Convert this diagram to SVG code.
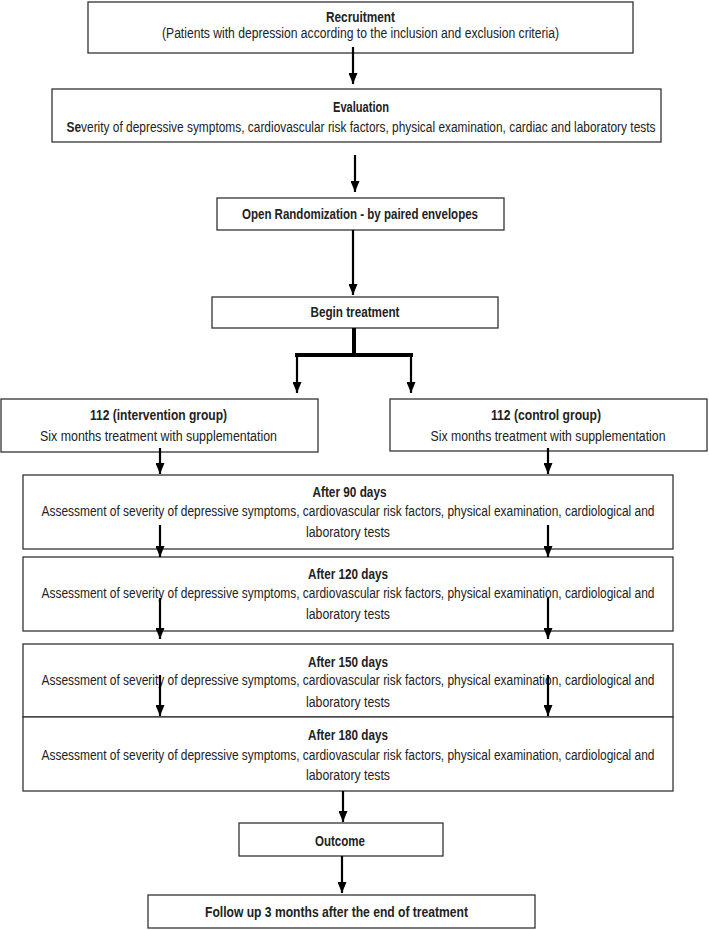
<svg xmlns="http://www.w3.org/2000/svg" width="709" height="930" viewBox="0 0 709 930">
<style>
.box{fill:#fff;stroke:#333;stroke-width:1.3}
.t{font-family:"Liberation Sans",Arial,sans-serif;font-size:14px;fill:#222;text-anchor:middle}
.b{font-weight:bold}
.c{stroke:#000;stroke-width:2.2;fill:none}
.k{stroke:#000;stroke-width:4;fill:none}
</style>
<defs>
<marker id="a" markerUnits="userSpaceOnUse" markerWidth="11" markerHeight="9" refX="11" refY="4.5" orient="auto" viewBox="0 0 11 9">
<path d="M0,0 L11,4.5 L0,9 Z" fill="#000"/>
</marker>
</defs>
<rect width="709" height="930" fill="#fff"/>

<g id="recruitment">
<rect class="box" x="88" y="2" width="545" height="51"/>
<text class="t b" x="360.5" y="22" textLength="69" lengthAdjust="spacingAndGlyphs">Recruitment</text>
<text class="t" x="360.5" y="38" textLength="397" lengthAdjust="spacingAndGlyphs">(Patients with depression according to the inclusion and exclusion criteria)</text>
</g>

<g id="evaluation">
<rect class="box" x="52" y="89" width="609" height="53"/>
<text class="t b" x="361" y="112" textLength="56" lengthAdjust="spacingAndGlyphs">Evaluation</text>
<text class="t" x="361" y="132" textLength="589" lengthAdjust="spacingAndGlyphs"><tspan class="b">Se</tspan>verity of depressive symptoms, cardiovascular risk factors, physical examination, cardiac and laboratory tests</text>
</g>

<g id="randomization">
<rect class="box" x="217" y="198" width="287" height="32"/>
<text class="t b" x="360" y="219" textLength="236" lengthAdjust="spacingAndGlyphs">Open Randomization - by paired envelopes</text>
</g>

<g id="begin">
<rect class="box" x="212" y="297" width="286" height="31"/>
<text class="t b" x="355" y="317" textLength="89" lengthAdjust="spacingAndGlyphs">Begin treatment</text>
</g>

<g id="intervention">
<rect class="box" x="1" y="399" width="317" height="53"/>
<text class="t b" x="158.5" y="419.5" textLength="137" lengthAdjust="spacingAndGlyphs">112 (intervention group)</text>
<text class="t" x="158.5" y="440.5" textLength="237" lengthAdjust="spacingAndGlyphs">Six months treatment with supplementation</text>
</g>

<g id="control">
<rect class="box" x="390" y="399" width="317" height="52"/>
<text class="t b" x="546" y="419.5" textLength="110" lengthAdjust="spacingAndGlyphs">112 (control group)</text>
<text class="t" x="548" y="440.5" textLength="235" lengthAdjust="spacingAndGlyphs">Six months treatment with supplementation</text>
</g>

<g id="day90">
<rect class="box" x="23" y="475" width="650" height="74"/>
<text class="t b" x="349.5" y="496.5" textLength="74" lengthAdjust="spacingAndGlyphs">After 90 days</text>
<text class="t" x="348" y="516" textLength="613" lengthAdjust="spacingAndGlyphs">Assessment of severity of depressive symptoms, cardiovascular risk factors, physical examination, cardiological and</text>
<text class="t" x="348" y="536.5" textLength="84" lengthAdjust="spacingAndGlyphs">laboratory tests</text>
</g>

<g id="day120">
<rect class="box" x="23" y="557" width="650" height="74"/>
<text class="t b" x="348" y="578.5" textLength="80" lengthAdjust="spacingAndGlyphs">After 120 days</text>
<text class="t" x="348" y="597.5" textLength="613" lengthAdjust="spacingAndGlyphs">Assessment of severity of depressive symptoms, cardiovascular risk factors, physical examination, cardiological and</text>
<text class="t" x="348" y="618.5" textLength="84" lengthAdjust="spacingAndGlyphs">laboratory tests</text>
</g>

<g id="day150">
<rect class="box" x="23" y="644" width="650" height="73"/>
<text class="t b" x="348" y="666.5" textLength="80" lengthAdjust="spacingAndGlyphs">After 150 days</text>
<text class="t" x="348" y="685" textLength="613" lengthAdjust="spacingAndGlyphs">Assessment of severity of depressive symptoms, cardiovascular risk factors, physical examination, cardiological and</text>
<text class="t" x="348" y="706.5" textLength="84" lengthAdjust="spacingAndGlyphs">laboratory tests</text>
</g>

<g id="day180">
<rect class="box" x="23" y="717" width="650" height="74"/>
<text class="t b" x="348" y="740" textLength="80" lengthAdjust="spacingAndGlyphs">After 180 days</text>
<text class="t" x="348" y="759.5" textLength="613" lengthAdjust="spacingAndGlyphs">Assessment of severity of depressive symptoms, cardiovascular risk factors, physical examination, cardiological and</text>
<text class="t" x="348" y="779.5" textLength="84" lengthAdjust="spacingAndGlyphs">laboratory tests</text>
</g>

<g id="outcome">
<rect class="box" x="239" y="823" width="204" height="33"/>
<text class="t b" x="340" y="846" textLength="50" lengthAdjust="spacingAndGlyphs">Outcome</text>
</g>

<g id="followup">
<rect class="box" x="148" y="895" width="387" height="33"/>
<text class="t b" x="336.5" y="917" textLength="263" lengthAdjust="spacingAndGlyphs">Follow up 3 months after the end of treatment</text>
</g>

<g id="connectors">
<path class="c" d="M353,47 V84" marker-end="url(#a)"/>
<path class="c" d="M355,155 V192" marker-end="url(#a)"/>
<path class="c" d="M353,230 V295" marker-end="url(#a)"/>
<path class="k" d="M354,328 V355"/>
<path class="k" d="M295,355 H413"/>
<path class="c" d="M297,355 V393" marker-end="url(#a)"/>
<path class="c" d="M411,355 V393" marker-end="url(#a)"/>
<path class="c" d="M160,448 V474" marker-end="url(#a)"/>
<path class="c" d="M548,448 V474" marker-end="url(#a)"/>
<path class="c" d="M160,525 V557" marker-end="url(#a)"/>
<path class="c" d="M548,525 V557" marker-end="url(#a)"/>
<path class="c" d="M160,598 V639" marker-end="url(#a)"/>
<path class="c" d="M548,598 V639" marker-end="url(#a)"/>
<path class="c" d="M160,675 V716" marker-end="url(#a)"/>
<path class="c" d="M548,675 V716" marker-end="url(#a)"/>
<path class="c" d="M343,791 V822" marker-end="url(#a)"/>
<path class="c" d="M342,856 V893" marker-end="url(#a)"/>
</g>
</svg>
